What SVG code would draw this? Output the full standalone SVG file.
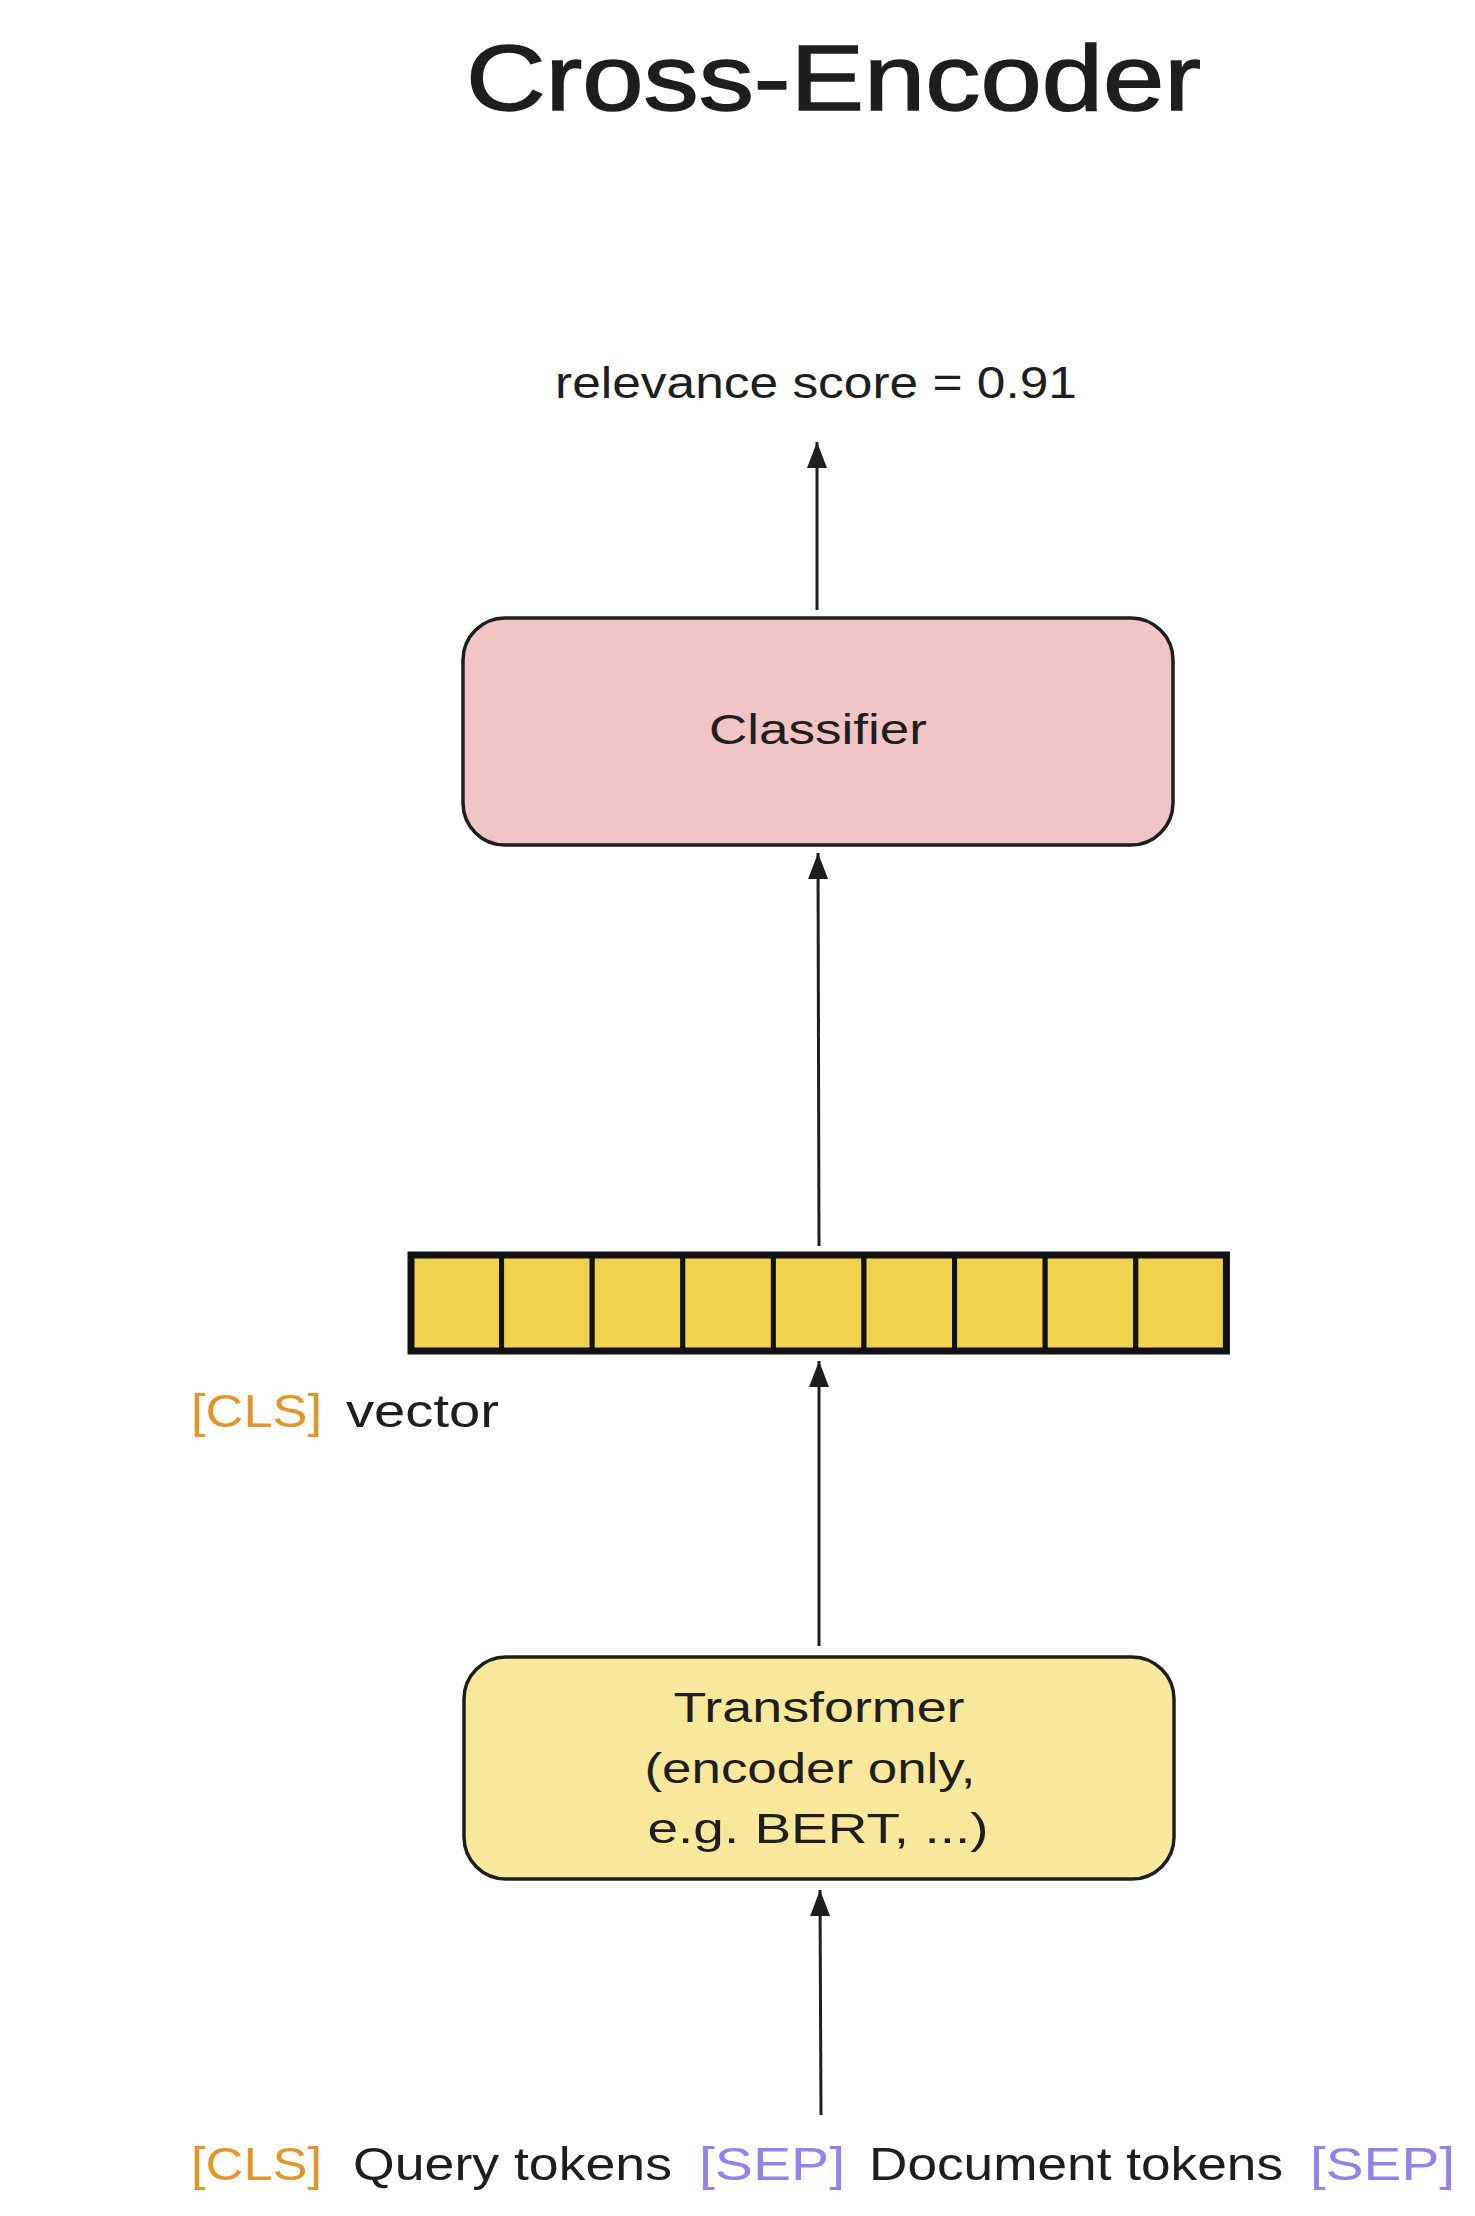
<svg xmlns="http://www.w3.org/2000/svg" width="1475" height="2216" viewBox="0 0 1475 2216">
<style>
  text { font-family: "Liberation Sans", "DejaVu Sans", sans-serif; fill: #1e1e1e; }
  .box { stroke: #1e1e1e; stroke-width: 3.5; }
  .edge { stroke: #1e1e1e; stroke-width: 3; fill: none; }
  .cell { fill: #f0d24e; stroke: #111; stroke-width: 5; }
  .cls { fill: #e0962e; }
  .sep { fill: #9481ec; }
</style>
<defs>
  <marker id="ah" viewBox="0 0 26 20" refX="26" refY="10" markerWidth="26" markerHeight="20" orient="auto" markerUnits="userSpaceOnUse">
    <path d="M0,0 L26,10 L0,20 Z" fill="#1e1e1e"/>
  </marker>
</defs>
<rect width="1475" height="2216" fill="#ffffff"/>

<g id="title">
  <text x="466" y="110" font-size="92" textLength="735" lengthAdjust="spacingAndGlyphs" stroke="#1e1e1e" stroke-width="1.5">Cross-Encoder</text>
</g>

<g id="score">
  <text x="555" y="398" font-size="44" textLength="522" lengthAdjust="spacingAndGlyphs">relevance score = 0.91</text>
</g>

<g id="classifier">
  <rect class="box" x="463" y="618" width="710" height="227" rx="42" ry="42" fill="#f1c4c5"/>
  <text x="818" y="744" font-size="42" text-anchor="middle" textLength="218" lengthAdjust="spacingAndGlyphs">Classifier</text>
</g>

<g id="cls-vector">
  <rect class="cell" x="411" y="1255" width="90.6" height="96"/>
  <rect class="cell" x="501.6" y="1255" width="90.6" height="96"/>
  <rect class="cell" x="592.2" y="1255" width="90.6" height="96"/>
  <rect class="cell" x="682.8" y="1255" width="90.6" height="96"/>
  <rect class="cell" x="773.4" y="1255" width="90.6" height="96"/>
  <rect class="cell" x="864" y="1255" width="90.6" height="96"/>
  <rect class="cell" x="954.6" y="1255" width="90.6" height="96"/>
  <rect class="cell" x="1045.2" y="1255" width="90.6" height="96"/>
  <rect class="cell" x="1135.8" y="1255" width="90.6" height="96"/>
  <rect x="411" y="1255" width="815.4" height="96" fill="none" stroke="#111" stroke-width="7"/>
</g>

<g id="cls-label">
  <text x="191" y="1427" font-size="46" class="cls" textLength="131" lengthAdjust="spacingAndGlyphs">[CLS]</text>
  <text x="346" y="1427" font-size="46" textLength="153" lengthAdjust="spacingAndGlyphs">vector</text>
</g>

<g id="transformer">
  <rect class="box" x="464" y="1657" width="710" height="222" rx="42" ry="42" fill="#f8e89b"/>
  <text x="819" y="1722" font-size="42" text-anchor="middle" textLength="291" lengthAdjust="spacingAndGlyphs">Transformer</text>
  <text x="810" y="1783" font-size="42" text-anchor="middle" textLength="331" lengthAdjust="spacingAndGlyphs">(encoder only,</text>
  <text x="818" y="1843" font-size="42" text-anchor="middle" textLength="341" lengthAdjust="spacingAndGlyphs">e.g. BERT, ...)</text>
</g>

<g id="input-tokens">
  <text x="191" y="2180" font-size="46" class="cls" textLength="131" lengthAdjust="spacingAndGlyphs">[CLS]</text>
  <text x="353" y="2180" font-size="46" textLength="319" lengthAdjust="spacingAndGlyphs">Query tokens</text>
  <text x="699" y="2180" font-size="46" class="sep" textLength="146" lengthAdjust="spacingAndGlyphs">[SEP]</text>
  <text x="869" y="2180" font-size="46" textLength="414" lengthAdjust="spacingAndGlyphs">Document tokens</text>
  <text x="1310" y="2180" font-size="46" class="sep" textLength="145" lengthAdjust="spacingAndGlyphs">[SEP]</text>
</g>

<g id="connectors">
  <line class="edge" x1="817" y1="610" x2="817" y2="442" marker-end="url(#ah)"/>
  <line class="edge" x1="819" y1="1246" x2="818" y2="853" marker-end="url(#ah)"/>
  <line class="edge" x1="819" y1="1646" x2="819" y2="1361" marker-end="url(#ah)"/>
  <line class="edge" x1="821" y1="2115" x2="820" y2="1890" marker-end="url(#ah)"/>
</g>
</svg>
